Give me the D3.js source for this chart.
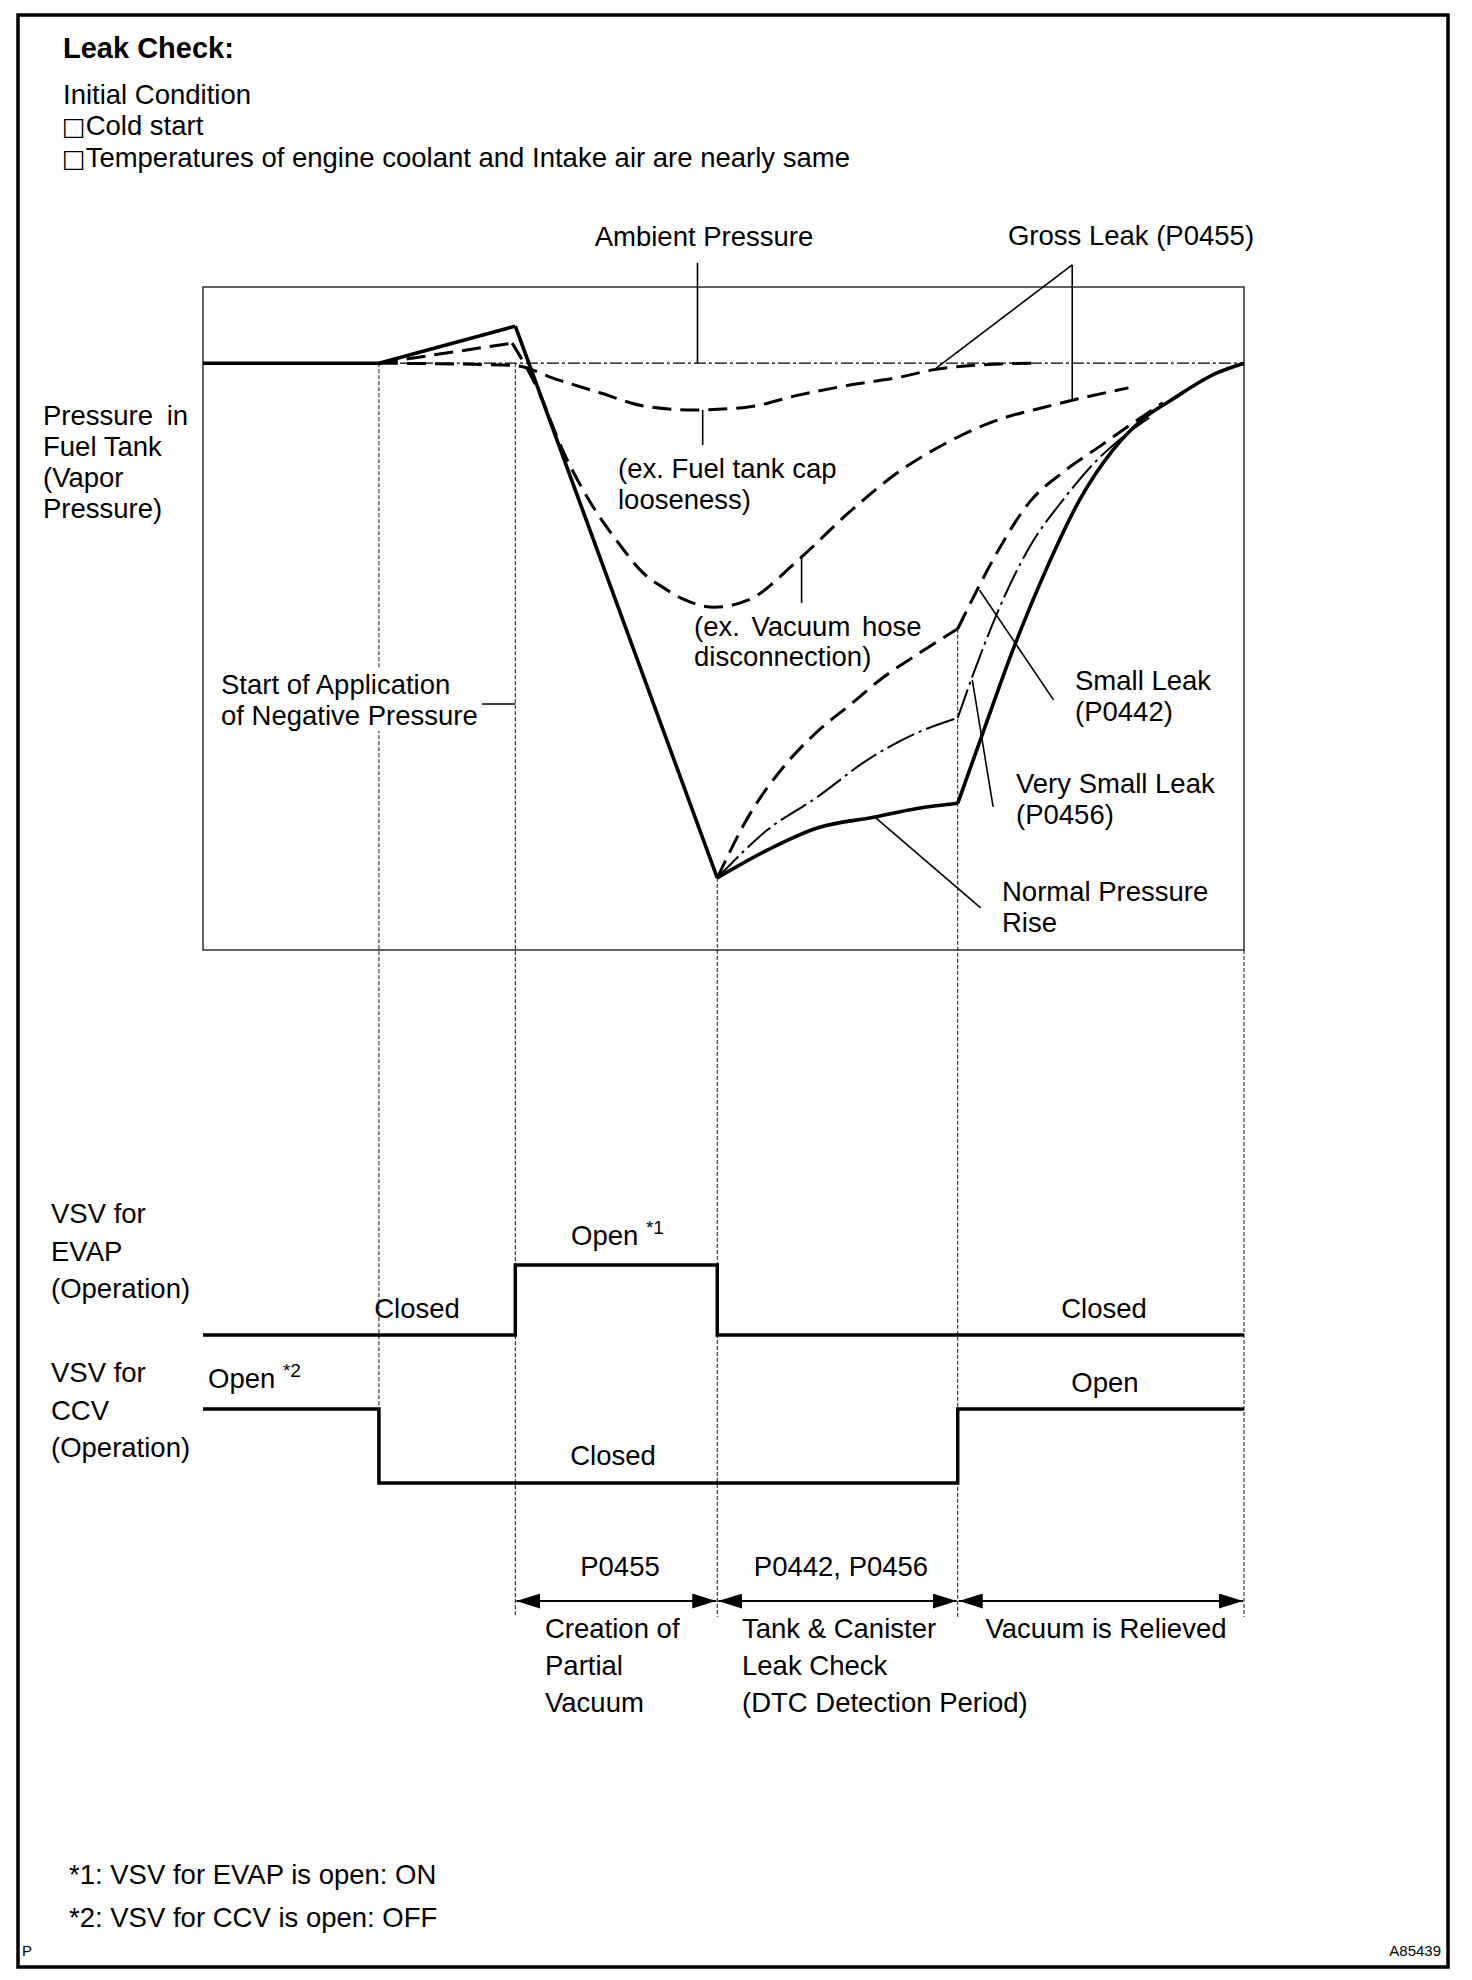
<!DOCTYPE html>
<html lang="en">
<head>
<meta charset="UTF-8">
<title>Leak Check</title>
<style>
  body { margin: 0; background: #fff; }
  svg { display: block; }
  text { font-family: "Liberation Sans", Arial, sans-serif; font-size: 27.5px; fill: #000; }
  .guide { stroke: #111; stroke-width: 1; stroke-dasharray: 4,2; fill: none; }
  .leader { stroke: #000; stroke-width: 1.6; fill: none; }
</style>
</head>
<body>
<svg width="1472" height="1980"></svg>
<script src="https://d3js.org/d3.v7.min.js"></script>
<script>
  // time runs 0..100 over the test, pressure is relative to ambient (deepest vacuum = -100)
  // third value 1 = sharp corner in the trace
  const phaseT = [0, 16.9, 30, 49.4, 72.5, 100];

  const normalTrace = [
    [0, 0], [16.9, 0, 1], [30, 7.2, 1], [49.4, -100, 1],
    [54.2, -94.6], [59, -90.3], [64.4, -88.2], [68.6, -86.5], [72.5, -85.5, 1],
    [74.9, -71.9], [77.8, -55.7], [81.1, -39.6], [84.2, -26.6], [87.4, -16.9],
    [90.7, -10.2], [92.9, -7.3], [97.4, -1.9], [100, 0]
  ];
  const hoseTrace = [
    [16.9, 0, 1], [29.7, 3.9, 1], [31.9, -4], [34.8, -18], [37.2, -27], [39.9, -34.9],
    [42.3, -40.8], [44.3, -43.7], [46.3, -46], [49.1, -47.4], [52.4, -46], [57.2, -38.2],
    [62, -29.1], [66.7, -21.3], [71.4, -15.5], [76.1, -11.2], [80.9, -8.5], [83.7, -7.1], [88.9, -4.8]
  ];
  const capTrace = [
    [16.9, 0, 1], [29.7, -0.4], [34.2, -3.3], [38.2, -5.8], [42.3, -8.3], [47.1, -9.1],
    [52.4, -8.5], [57.2, -6.2], [62, -4.3], [66.7, -2.8], [70.4, -1.2], [76.1, -0.2], [79.9, 0]
  ];
  const smallLeakTrace = [
    [49.4, -100, 1], [52.5, -87.7], [55.7, -78.6], [59, -71.6], [62.2, -66.3], [65.3, -61.1],
    [68.6, -56.6], [72.5, -51.6, 1], [74.6, -43.1], [76.3, -36.7], [79.4, -27], [82.6, -21.2],
    [85.9, -16.5], [89, -12.1], [92.2, -7.7]
  ];
  const verySmallTrace = [
    [49.4, -100, 1], [54.2, -90.7], [59, -84.3], [63.8, -77.1], [68.6, -71.8], [72.5, -68.9, 1],
    [73.9, -60.9], [76.3, -48.5], [79.4, -35.7], [82.6, -26.6], [85.9, -18.8], [88.4, -14.3], [90.9, -10.6]
  ];

  // valve states (1 = upper level), value holds from t until next step
  const evapSteps = [[0, 0], [30, 1], [49.4, 0], [100, 0]];
  const ccvSteps = [[0, 1], [16.9, 0], [72.5, 1], [100, 1]];

  // leader lines [t1, p1, t2, p2]
  const leaders = [
    [47.5, 19.5, 47.5, 0],
    [83.5, 19.1, 70.4, -1.0],
    [83.5, 19.1, 83.5, -7.1],
    [48.0, -9.1, 48.0, -15.9],
    [57.5, -37.3, 57.5, -46.6],
    [26.8, -66.2, 30, -66.2],
    [74.6, -44.1, 81.7, -65.4],
    [73.9, -61.5, 75.9, -86.2],
    [64.6, -88.3, 74.7, -105.8]
  ];

  const svg = d3.select("svg");
  const x = d3.scaleLinear().domain([0, 100]).range([203, 1244]);
  const y = d3.scaleLinear().domain([-114, 14.8]).range([950, 287]);
  const yEvap = d3.scaleLinear().domain([0, 1]).range([1335, 1265]);
  const yCcv = d3.scaleLinear().domain([0, 1]).range([1483, 1409]);
  const bottomY = 1617, arrowY = 1601;

  // outer frame
  svg.append("rect").attr("x", 18).attr("y", 15).attr("width", 1430).attr("height", 1952)
    .attr("fill", "none").attr("stroke", "#000").attr("stroke-width", 3.5);

  // plot box
  svg.append("rect").attr("x", x(0)).attr("y", y(14.8))
    .attr("width", x(100) - x(0)).attr("height", y(-114) - y(14.8))
    .attr("fill", "none").attr("stroke", "#222").attr("stroke-width", 1.4);

  // phase guide lines
  const guideTop = [null, 0, 0, -100, -51.6, -114];
  const guides = svg.append("g");
  phaseT.forEach((t, i) => {
    if (i === 0) return;
    guides.append("line").attr("class", "guide")
      .attr("x1", x(t)).attr("x2", x(t))
      .attr("y1", y(guideTop[i]))
      .attr("y2", i === 1 ? yCcv(0) : bottomY);
  });

  // ambient pressure
  svg.append("line").attr("x1", x(16.9)).attr("x2", x(100)).attr("y1", y(0)).attr("y2", y(0))
    .attr("stroke", "#000").attr("stroke-width", 1.2).attr("stroke-dasharray", "12,3,3,3");

  function segments(pts) {
    const out = []; let cur = [];
    pts.forEach(d => {
      cur.push(d);
      if (d[2] && cur.length > 1) { out.push(cur); cur = [d]; }
    });
    if (cur.length > 1) out.push(cur);
    return out;
  }
  const line = d3.line().x(d => x(d[0])).y(d => y(d[1])).curve(d3.curveMonotoneX);

  function trace(pts, width, dash) {
    svg.append("g").selectAll("path").data(segments(pts)).join("path")
      .attr("d", line).attr("fill", "none").attr("stroke", "#000")
      .attr("stroke-width", width).attr("stroke-dasharray", dash)
      .attr("stroke-linejoin", "round");
  }
  trace(capTrace, 3, "19,9");
  trace(hoseTrace, 3, "19,9");
  trace(smallLeakTrace, 3, "19,9");
  trace(verySmallTrace, 2, "30,5,3,5");
  trace(normalTrace, 3.6, null);

  // leaders
  svg.append("g").selectAll("line").data(leaders).join("line").attr("class", "leader")
    .attr("x1", d => x(d[0])).attr("y1", d => y(d[1]))
    .attr("x2", d => x(d[2])).attr("y2", d => y(d[3]));

  // valve traces
  const step = d3.line().x(d => x(d[0])).curve(d3.curveStepAfter);
  svg.append("path").datum(evapSteps).attr("d", step.y(d => yEvap(d[1])))
    .attr("fill", "none").attr("stroke", "#000").attr("stroke-width", 3.5);
  svg.append("path").datum(ccvSteps).attr("d", step.y(d => yCcv(d[1])))
    .attr("fill", "none").attr("stroke", "#000").attr("stroke-width", 3.5);

  // period arrows
  const defs = svg.append("defs");
  defs.append("marker").attr("id", "ah").attr("viewBox", "0 0 24 15")
    .attr("refX", 24).attr("refY", 7.5).attr("markerWidth", 24).attr("markerHeight", 15)
    .attr("markerUnits", "userSpaceOnUse").attr("orient", "auto-start-reverse")
    .append("path").attr("d", "M0,0 L24,7.5 L0,15 Z").attr("fill", "#000");
  svg.append("g").selectAll("line").data(d3.pairs(phaseT.slice(2))).join("line")
    .attr("x1", d => x(d[0]) + 1).attr("x2", d => x(d[1]) - 1)
    .attr("y1", arrowY).attr("y2", arrowY)
    .attr("stroke", "#000").attr("stroke-width", 2.2)
    .attr("marker-start", "url(#ah)").attr("marker-end", "url(#ah)");

  // text
  function label(lines, px, py, dy, opts = {}) {
    const t = svg.append("text").attr("x", px).attr("y", py)
      .attr("text-anchor", opts.anchor || "start");
    if (opts.bold) t.attr("font-weight", "bold");
    if (opts.size) t.style("font-size", opts.size + "px");
    lines.forEach((s, i) => {
      const ts = t.append("tspan").attr("x", px).attr("dy", i ? dy : 0).text(s);
      if (opts.ws && i === 0) ts.attr("word-spacing", opts.ws);
    });
    return t;
  }

  label(["Leak Check:"], 63, 58, 0, { bold: true, size: 29 });
  label(["Initial Condition"], 63, 104, 0);
  ["Cold start", "Temperatures of engine coolant and Intake air are nearly same"].forEach((s, i) => {
    const t = svg.append("text").attr("x", 62).attr("y", 135 + i * 32);
    t.append("tspan").style("font-family", "DejaVu Sans").style("font-size", "25px").text("\u25A1");
    t.append("tspan").text(s);
  });

  label(["Pressure  in", "Fuel Tank", "(Vapor", "Pressure)"], 43, 425, 31, { ws: 6 });
  label(["Ambient Pressure"], 704, 246, 0, { anchor: "middle" });
  label(["Gross Leak (P0455)"], 1131, 245, 0, { anchor: "middle" });
  label(["(ex. Fuel tank cap", "looseness)"], 618, 478, 31);
  label(["(ex. Vacuum hose", "disconnection)"], 694, 636, 30, { ws: 4 });

  const start = label(["Start of Application", "of Negative Pressure"], 221, 694, 31);
  const bb = start.node().getBBox();
  svg.insert("rect", "text").attr("x", bb.x).attr("y", bb.y).attr("width", bb.width)
    .attr("height", bb.height).attr("fill", "#fff");

  label(["Small Leak", "(P0442)"], 1075, 690, 31);
  label(["Very Small Leak", "(P0456)"], 1016, 793, 31);
  label(["Normal Pressure", "Rise"], 1002, 901, 31);

  label(["VSV for", "EVAP", "(Operation)"], 51, 1223, 37.5);
  label(["VSV for", "CCV", "(Operation)"], 51, 1382, 37.5);

  label(["Closed"], 417, 1318, 0, { anchor: "middle" });
  label(["Closed"], 1104, 1318, 0, { anchor: "middle" });
  label(["Closed"], 613, 1465, 0, { anchor: "middle" });
  label(["Open"], 1105, 1392, 0, { anchor: "middle" });

  [["*1", 571, 1245], ["*2", 208, 1388]].forEach(([note, px, py]) => {
    const t = svg.append("text").attr("x", px).attr("y", py).text("Open ");
    t.append("tspan").attr("dy", -11).style("font-size", "19px").text(note);
  });

  label(["P0455"], 620, 1576, 0, { anchor: "middle" });
  label(["P0442, P0456"], 841, 1576, 0, { anchor: "middle" });
  label(["Creation of", "Partial", "Vacuum"], 545, 1638, 37);
  label(["Tank & Canister", "Leak Check", "(DTC Detection Period)"], 742, 1638, 37);
  label(["Vacuum is Relieved"], 1106, 1638, 0, { anchor: "middle" });

  label(["*1: VSV for EVAP is open: ON", "*2: VSV for CCV is open: OFF"], 69, 1884, 43);
  label(["P"], 22, 1956, 0, { size: 15 });
  label(["A85439"], 1441, 1956, 0, { anchor: "end", size: 15 });
</script>
</body>
</html>
